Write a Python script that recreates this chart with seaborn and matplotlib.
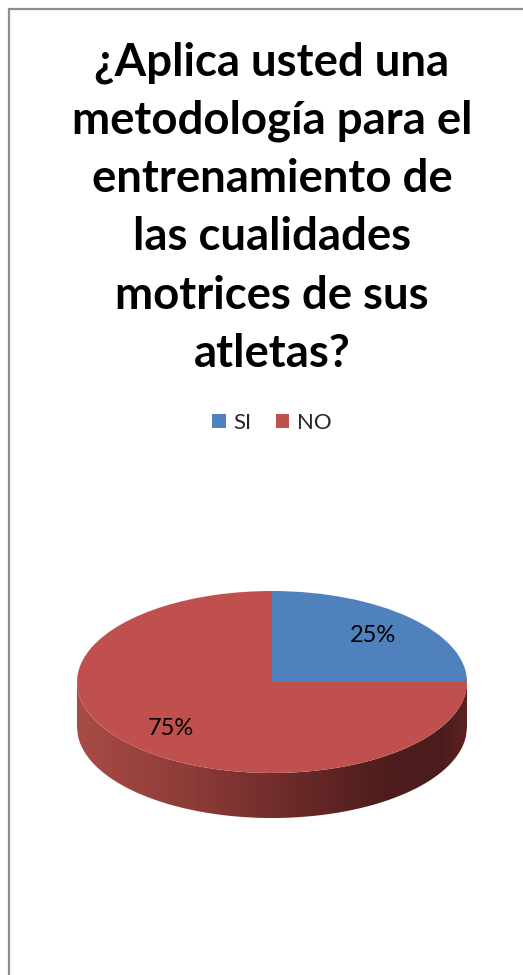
import numpy as np
import matplotlib
matplotlib.use("Agg")
import matplotlib.pyplot as plt
import seaborn as sns
from matplotlib.patches import Rectangle, Polygon, Patch
from matplotlib.colors import LinearSegmentedColormap

# ---- data ----
categories = ["SI", "NO"]
values = [25, 75]
colors = ["#4F81BD", "#C0504D"]
title_lines = ["¿Aplica usted una", "metodología para el", "entrenamiento de",
               "las cualidades", "motrices de sus", "atletas?"]

sns.set_theme(style="white")
plt.rcParams['font.family'] = ['Lato', 'DejaVu Sans']

W, H = 523, 975
fig = plt.figure(figsize=(W / 100, H / 100), dpi=100)
fig.patch.set_facecolor("white")

# outer chart border (left & top visible)
fig.patches.append(Rectangle((9 / W, -0.2), 1.5, (H - 9) / H + 0.2,
                             transform=fig.transFigure, fill=False,
                             edgecolor="#8E8E8E", lw=1.6))

# ---- title ----
for i, line in enumerate(title_lines):
    yb = 75 + i * 58.4
    fig.text(272 / W, 1 - yb / H, line, ha="center", va="baseline",
             fontsize=32.8, fontweight="bold", color="black")

# ---- pie (3-D look) ----
cx, cy, rx, ry, thick = 272, 682, 195, 91, 45
ax = fig.add_axes([0, 0, 1, 1])
ax.patch.set_alpha(0)
wedges, texts, autotexts = ax.pie(values, colors=colors, startangle=90,
                                  counterclock=False, radius=1,
                                  autopct="%1.0f%%", pctdistance=0.73,
                                  wedgeprops=dict(linewidth=0),
                                  textprops=dict(fontsize=17, color="black"))
for w in wedges:
    w.set_zorder(3)
for t in autotexts:
    t.set_zorder(4)

t = thick / ry
xs = np.linspace(-1, 1, 400)
ytop = -np.sqrt(np.clip(1 - xs ** 2, 0, None))
verts = np.vstack([np.column_stack([xs, ytop]),
                   np.column_stack([xs[::-1], ytop[::-1] - t])])
side = Polygon(verts, closed=True, facecolor="none", edgecolor="none", zorder=2)
ax.add_patch(side)
side_cmap = LinearSegmentedColormap.from_list(
    "side", [(0.0, "#A84B46"), (0.3, "#8C3B37"), (0.55, "#6C2A29"),
             (0.8, "#4D1D1C"), (0.93, "#4A1C1C"), (1.0, "#5C2221")])
grad = np.linspace(0, 1, 256)[None, :]
im = ax.imshow(grad, extent=[-1, 1, -1 - t, 0], cmap=side_cmap,
               aspect="auto", zorder=2, interpolation="bilinear")
im.set_clip_path(side)

ax.set_aspect("auto")
ax.set_xlim((0 - cx) / rx, (W - cx) / rx)
ax.set_ylim((cy - H) / ry, (cy - 0) / ry)
ax.axis("off")

# ---- legend ----
handles = [Patch(facecolor=c, edgecolor="none", label=l) for c, l in zip(colors, categories)]
fig.legend(handles=handles, loc="center", bbox_to_anchor=(272 / W, 1 - 423 / H),
           ncol=2, frameon=False, fontsize=16, handlelength=0.6, handleheight=0.6,
           handletextpad=0.35, columnspacing=1.1)

fig.savefig("out.png", dpi=100)
